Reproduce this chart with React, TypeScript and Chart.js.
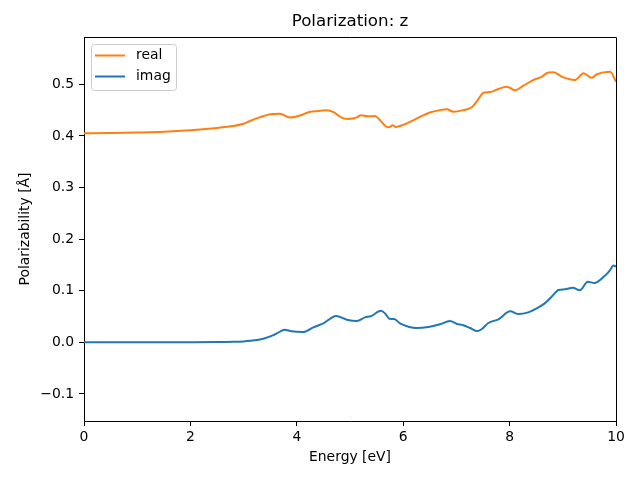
import React, { useEffect, useRef } from "react";
import { Chart, registerables } from "chart.js";

Chart.register(...registerables);

const realEnergy = [0, 0.5, 1, 1.5, 2, 2.5, 2.8, 3.0, 3.12, 3.3, 3.5, 3.68, 3.87, 4.09, 4.22, 4.37, 4.56, 4.69, 4.84, 4.97, 5.13, 5.2, 5.34, 5.47, 5.56, 5.68, 5.74, 5.8, 5.86, 6.0, 6.25, 6.5, 6.69, 6.82, 6.94, 7.13, 7.29, 7.38, 7.52, 7.63, 7.79, 7.95, 8.1, 8.26, 8.45, 8.6, 8.73, 8.82, 9.0, 9.23, 9.39, 9.54, 9.64, 9.89, 10.0];
const realValues = [0.405, 0.4055, 0.4065, 0.408, 0.411, 0.4155, 0.419, 0.4235, 0.429, 0.436, 0.442, 0.443, 0.4355, 0.4405, 0.446, 0.448, 0.4495, 0.446, 0.4355, 0.433, 0.436, 0.44, 0.438, 0.4385, 0.431, 0.418, 0.4167, 0.4205, 0.4175, 0.4215, 0.4335, 0.4455, 0.45, 0.4515, 0.447, 0.45, 0.4555, 0.4665, 0.484, 0.485, 0.491, 0.4955, 0.4885, 0.4975, 0.5085, 0.5145, 0.523, 0.5235, 0.514, 0.5085, 0.5215, 0.5125, 0.5195, 0.5245, 0.505];

const imagEnergy = [0, 1, 2, 2.5, 2.8, 3.0, 3.12, 3.37, 3.56, 3.65, 3.77, 3.9, 4.12, 4.31, 4.5, 4.74, 4.94, 5.13, 5.28, 5.39, 5.58, 5.66, 5.74, 5.83, 5.94, 6.1, 6.25, 6.5, 6.69, 6.88, 7.0, 7.13, 7.26, 7.39, 7.48, 7.6, 7.79, 8.01, 8.16, 8.35, 8.51, 8.66, 8.79, 8.92, 9.04, 9.19, 9.32, 9.47, 9.59, 9.79, 9.89, 9.95, 10.0];
const imagValues = [0, 0, 0.0002, 0.0005, 0.001, 0.0018, 0.003, 0.007, 0.014, 0.0186, 0.0245, 0.0213, 0.02, 0.029, 0.0368, 0.051, 0.0438, 0.0413, 0.0484, 0.0504, 0.0612, 0.056, 0.0457, 0.0452, 0.0368, 0.0302, 0.0275, 0.0302, 0.0349, 0.0413, 0.036, 0.033, 0.0277, 0.0219, 0.0258, 0.0374, 0.0446, 0.06, 0.0548, 0.058, 0.0659, 0.0755, 0.0884, 0.1014, 0.1027, 0.1058, 0.1008, 0.1174, 0.1149, 0.129, 0.14, 0.149, 0.1465];

const xTicks = [0, 2, 4, 6, 8, 10];
const yTicks = [-0.1, 0, 0.1, 0.2, 0.3, 0.4, 0.5];

const titleText = "Polarization: z";
const xLabel = "Energy [eV]";
const yLabel = "Polarizability [Å]";
const seriesNames = ["real", "imag"];
const seriesColors = ["#ff7f0e", "#1f77b4"];

const FONT = "'DejaVu Sans', sans-serif";

const decorPlugin = {
  id: "decor",
  afterDraw(chart: any) {
    const { ctx, chartArea } = chart;
    const { left, right, top, bottom } = chartArea;
    ctx.save();
    // frame top/right
    ctx.strokeStyle = "#000";
    ctx.lineWidth = 1;
    ctx.beginPath();
    ctx.moveTo(left, top + 0.5);
    ctx.lineTo(right + 0.5, top + 0.5);
    ctx.lineTo(right + 0.5, bottom);
    ctx.stroke();

    ctx.fillStyle = "#000";
    ctx.textAlign = "center";
    ctx.textBaseline = "middle";
    ctx.font = `16.7px ${FONT}`;
    ctx.fillText(titleText, (left + right) / 2, 22);

    ctx.font = `13.9px ${FONT}`;
    ctx.fillText(xLabel, (left + right) / 2, 457);

    ctx.save();
    ctx.translate(25, (top + bottom) / 2);
    ctx.rotate(-Math.PI / 2);
    ctx.fillText(yLabel, 0, 0);
    ctx.restore();

    // legend
    const bx = 91.5, by = 44.5, bw = 85, bh = 46, r = 3;
    ctx.beginPath();
    ctx.moveTo(bx + r, by);
    ctx.lineTo(bx + bw - r, by);
    ctx.arcTo(bx + bw, by, bx + bw, by + r, r);
    ctx.lineTo(bx + bw, by + bh - r);
    ctx.arcTo(bx + bw, by + bh, bx + bw - r, by + bh, r);
    ctx.lineTo(bx + r, by + bh);
    ctx.arcTo(bx, by + bh, bx, by + bh - r, r);
    ctx.lineTo(bx, by + r);
    ctx.arcTo(bx, by, bx + r, by, r);
    ctx.closePath();
    ctx.fillStyle = "rgba(255,255,255,0.8)";
    ctx.fill();
    ctx.strokeStyle = "#cccccc";
    ctx.lineWidth = 1;
    ctx.stroke();

    const rows = [55.5, 76.5];
    seriesNames.forEach((name, i) => {
      ctx.strokeStyle = seriesColors[i];
      ctx.lineWidth = 2;
      ctx.beginPath();
      ctx.moveTo(95, rows[i]);
      ctx.lineTo(125, rows[i]);
      ctx.stroke();
      ctx.fillStyle = "#000";
      ctx.textAlign = "left";
      ctx.font = `13.9px ${FONT}`;
      ctx.fillText(name, 136, rows[i]);
    });
    ctx.restore();
  },
};

export default function App() {
  const ref = useRef<HTMLCanvasElement>(null);
  useEffect(() => {
    if (!ref.current) return;
    const realData = realEnergy.map((x, i) => ({ x, y: realValues[i] }));
    const imagData = imagEnergy.map((x, i) => ({ x, y: imagValues[i] }));
    const chart = new Chart(ref.current, {
      type: "line",
      data: {
        datasets: [
          {
            label: seriesNames[0],
            data: realData,
            borderColor: seriesColors[0],
            borderWidth: 2,
            pointRadius: 0,
            cubicInterpolationMode: "monotone",
            fill: false,
          },
          {
            label: seriesNames[1],
            data: imagData,
            borderColor: seriesColors[1],
            borderWidth: 2,
            pointRadius: 0,
            cubicInterpolationMode: "monotone",
            fill: false,
          },
        ],
      },
      options: {
        responsive: false,
        animation: false,
        devicePixelRatio: 1,
        layout: { padding: { top: 37, right: 24, left: 0, bottom: 0 } },
        plugins: {
          legend: { display: false },
          title: { display: false },
          tooltip: { enabled: false },
        },
        scales: {
          x: {
            type: "linear",
            min: 0,
            max: 10,
            afterFit: (s: any) => {
              s.height = 59;
            },
            afterBuildTicks: (s: any) => {
              s.ticks = xTicks.map((v) => ({ value: v }));
            },
            ticks: {
              color: "#000",
              font: { family: FONT, size: 13.9 },
              padding: 3,
              maxRotation: 0,
              callback: (v: any) => String(v),
            },
            grid: {
              display: true,
              drawOnChartArea: false,
              drawTicks: true,
              tickLength: 5,
              color: "#000",
            },
            border: { display: true, color: "#000", width: 1 },
          },
          y: {
            type: "linear",
            min: -0.1525,
            max: 0.5917,
            afterFit: (s: any) => {
              s.width = 84;
            },
            afterBuildTicks: (s: any) => {
              s.ticks = yTicks.map((v) => ({ value: v }));
            },
            ticks: {
              color: "#000",
              font: { family: FONT, size: 13.9 },
              padding: 5,
              callback: (v: any) => {
                const n = Number(v);
                return n < 0 ? "\u2212" + Math.abs(n).toFixed(1) : n.toFixed(1);
              },
            },
            grid: {
              display: true,
              drawOnChartArea: false,
              drawTicks: true,
              tickLength: 5,
              color: "#000",
            },
            border: { display: true, color: "#000", width: 1 },
          },
        },
      },
      plugins: [decorPlugin],
    });
    return () => chart.destroy();
  }, []);
  return (
    <div style={{ position: "absolute", left: 0, top: 0, width: 640, height: 480, background: "#fff" }}>
      <canvas ref={ref} width={640} height={480} style={{ width: 640, height: 480 }} />
    </div>
  );
}
